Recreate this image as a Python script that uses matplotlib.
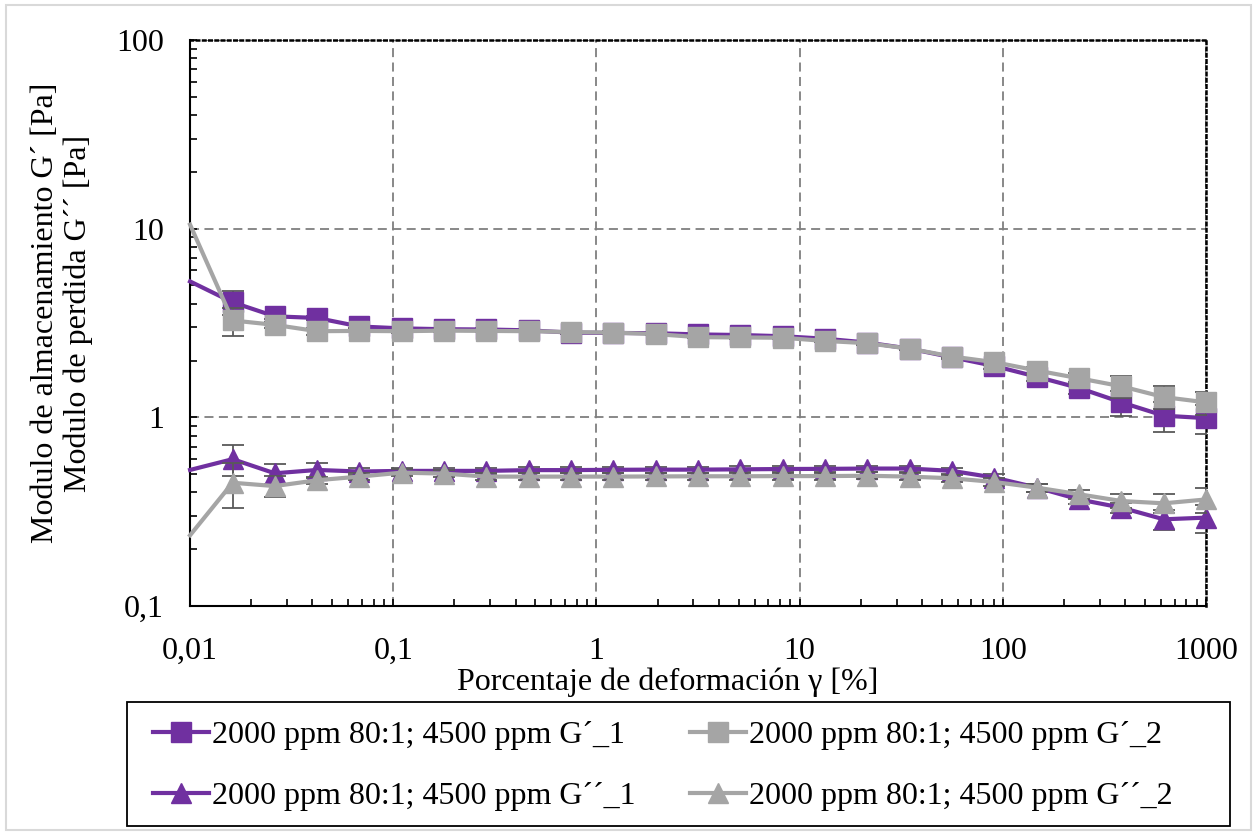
import matplotlib
matplotlib.use("Agg")
import matplotlib.pyplot as plt
from matplotlib.patches import Rectangle
from matplotlib.ticker import LogLocator, NullFormatter

plt.rcParams['font.family'] = ['Liberation Serif', 'DejaVu Serif']

# strain sweep, % deformation
strain = [0.01, 0.0162, 0.0261, 0.0422, 0.0681, 0.110, 0.178, 0.287, 0.464, 0.750,
          1.21, 1.96, 3.16, 5.11, 8.25, 13.3, 21.5, 34.8, 56.2, 90.9,
          147, 237, 383, 619, 1000]

g1_storage = [5.25, 4.07, 3.43, 3.36, 3.03, 2.96, 2.93, 2.92, 2.89, 2.81,
              2.80, 2.79, 2.75, 2.73, 2.69, 2.61, 2.49, 2.31, 2.08, 1.87,
              1.64, 1.43, 1.20, 1.02, 0.99]
g2_storage = [10.5, 3.26, 3.09, 2.86, 2.87, 2.86, 2.88, 2.87, 2.86, 2.83,
              2.81, 2.76, 2.66, 2.65, 2.64, 2.54, 2.47, 2.31, 2.10, 1.96,
              1.77, 1.61, 1.46, 1.28, 1.20]
g1_loss = [0.526, 0.600, 0.505, 0.526, 0.516, 0.520, 0.520, 0.520, 0.525, 0.525,
           0.527, 0.528, 0.528, 0.530, 0.532, 0.533, 0.535, 0.535, 0.520, 0.479,
           0.424, 0.367, 0.332, 0.288, 0.294]
g2_loss = [0.237, 0.450, 0.432, 0.464, 0.485, 0.509, 0.503, 0.485, 0.485, 0.485,
           0.485, 0.486, 0.487, 0.487, 0.488, 0.488, 0.490, 0.485, 0.475, 0.454,
           0.424, 0.391, 0.360, 0.350, 0.367]

# standard deviations
g1_storage_err = [0, 0.58, 0.10, 0.08, 0.05, 0.05, 0.04, 0.04, 0.04, 0.04,
                  0.04, 0.04, 0.04, 0.04, 0.04, 0.04, 0.04, 0.04, 0.05, 0.06,
                  0.08, 0.10, 0.18, 0.18, 0.17]
g2_storage_err = [0, 0.55, 0.10, 0.12, 0.05, 0.05, 0.04, 0.04, 0.04, 0.04,
                  0.04, 0.04, 0.04, 0.04, 0.04, 0.04, 0.04, 0.04, 0.05, 0.06,
                  0.08, 0.10, 0.19, 0.18, 0.17]
g1_loss_err = [0, 0.11, 0.06, 0.05, 0.02, 0.02, 0.02, 0.02, 0.02, 0.02,
               0.02, 0.02, 0.02, 0.02, 0.02, 0.02, 0.02, 0.02, 0.02, 0.02,
               0.02, 0.02, 0.02, 0.035, 0.05]
g2_loss_err = [0, 0.12, 0.055, 0.02, 0.02, 0.02, 0.02, 0.02, 0.02, 0.02,
               0.02, 0.02, 0.02, 0.02, 0.02, 0.02, 0.02, 0.02, 0.02, 0.02,
               0.02, 0.02, 0.03, 0.04, 0.057]

labels = ['2000 ppm 80:1; 4500 ppm G\u00b4_1', '2000 ppm 80:1; 4500 ppm G\u00b4_2',
          '2000 ppm 80:1; 4500 ppm G\u00b4\u00b4_1', '2000 ppm 80:1; 4500 ppm G\u00b4\u00b4_2']
xtick_vals = [0.01, 0.1, 1, 10, 100, 1000]
xtick_labels = ['0,01', '0,1', '1', '10', '100', '1000']
ytick_vals = [0.1, 1, 10, 100]
ytick_labels = ['0,1', '1', '10', '100']

PURPLE = '#7030A0'
GREY = '#A5A5A5'
ERR = '#595959'
FS = 23

fig = plt.figure(figsize=(12.57, 8.34), dpi=100)
# chart area border and legend box
fig.patches.append(Rectangle((0.005, 0.005), 0.99, 0.989, transform=fig.transFigure,
                             fill=False, edgecolor='#D9D9D9', linewidth=1.5))
fig.patches.append(Rectangle((127 / 1257, 8 / 834), 1103 / 1257, 124 / 834,
                             transform=fig.transFigure, fill=False,
                             edgecolor='black', linewidth=1.3))
ax = fig.add_axes([0.1512, 0.2734, 0.8083, 0.6787])

series = [
    (g1_storage, g1_storage_err, PURPLE, 's', labels[0]),
    (g2_storage, g2_storage_err, GREY, 's', labels[1]),
    (g1_loss, g1_loss_err, PURPLE, '^', labels[2]),
    (g2_loss, g2_loss_err, GREY, '^', labels[3]),
]
handles = []
for i, (vals, err, col, mk, lab) in enumerate(series):
    z = 3 + i
    ax.errorbar(strain[1:], vals[1:], yerr=err[1:], fmt='none', ecolor=ERR,
                elinewidth=1.3, capsize=8, capthick=1.3, zorder=z)
    h, = ax.plot(strain, vals, color=col, lw=3, marker=mk, markersize=14.5,
                 markevery=slice(1, None), label=lab, zorder=z + 0.5,
                 clip_on=False)
    handles.append(h)

ax.set_xscale('log')
ax.set_yscale('log')
ax.set_xlim(0.01, 1000)
ax.set_ylim(0.1, 100)

ax.set_xticks(xtick_vals)
ax.set_xticklabels(xtick_labels)
ax.set_yticks(ytick_vals)
ax.set_yticklabels(ytick_labels)
ax.xaxis.set_minor_locator(LogLocator(base=10, subs=range(2, 10), numticks=20))
ax.yaxis.set_minor_locator(LogLocator(base=10, subs=range(2, 10), numticks=20))
ax.xaxis.set_minor_formatter(NullFormatter())
ax.yaxis.set_minor_formatter(NullFormatter())
ax.tick_params(which='both', direction='in', color='black', width=1.2,
               top=False, right=False)
ax.tick_params(which='major', length=5, labelsize=FS)
ax.tick_params(which='minor', length=5)
ax.tick_params(axis='x', which='major', pad=22)
ax.tick_params(axis='y', which='major', pad=19)

ax.grid(True, which='major', color='#7F7F7F', linestyle=(0, (5, 3)), linewidth=1.3)
ax.set_axisbelow(True)
for side in ('left', 'bottom'):
    ax.spines[side].set_linewidth(1.5)
    ax.spines[side].set_color('black')
for side in ('top', 'right'):
    ax.spines[side].set_linestyle((0, (1, 1.5)))
    ax.spines[side].set_linewidth(1.8)
    ax.spines[side].set_color('black')

fig.text(668 / 1257, 1 - 682 / 834, 'Porcentaje de deformación \u03b3 [%]',
         ha='center', va='center', fontsize=FS)
fig.text(62 / 1257, 1 - 313 / 834,
         'Modulo de almacenamiento G\u00b4 [Pa]\nModulo de perdida G\u00b4\u00b4 [Pa]',
         ha='center', va='center', rotation=90, fontsize=FS, linespacing=1.12)

order = [0, 2, 1, 3]
leg = fig.legend([handles[k] for k in order], [labels[k] for k in order],
                 ncol=2, loc='center left',
                 bbox_to_anchor=(153 / 1257, 1 - 766 / 834),
                 fontsize=FS, frameon=False, handlelength=1.75,
                 handletextpad=0.1, labelspacing=1.0, borderaxespad=0,
                 borderpad=0, columnspacing=1.7)

fig.savefig('out.png', dpi=100)
